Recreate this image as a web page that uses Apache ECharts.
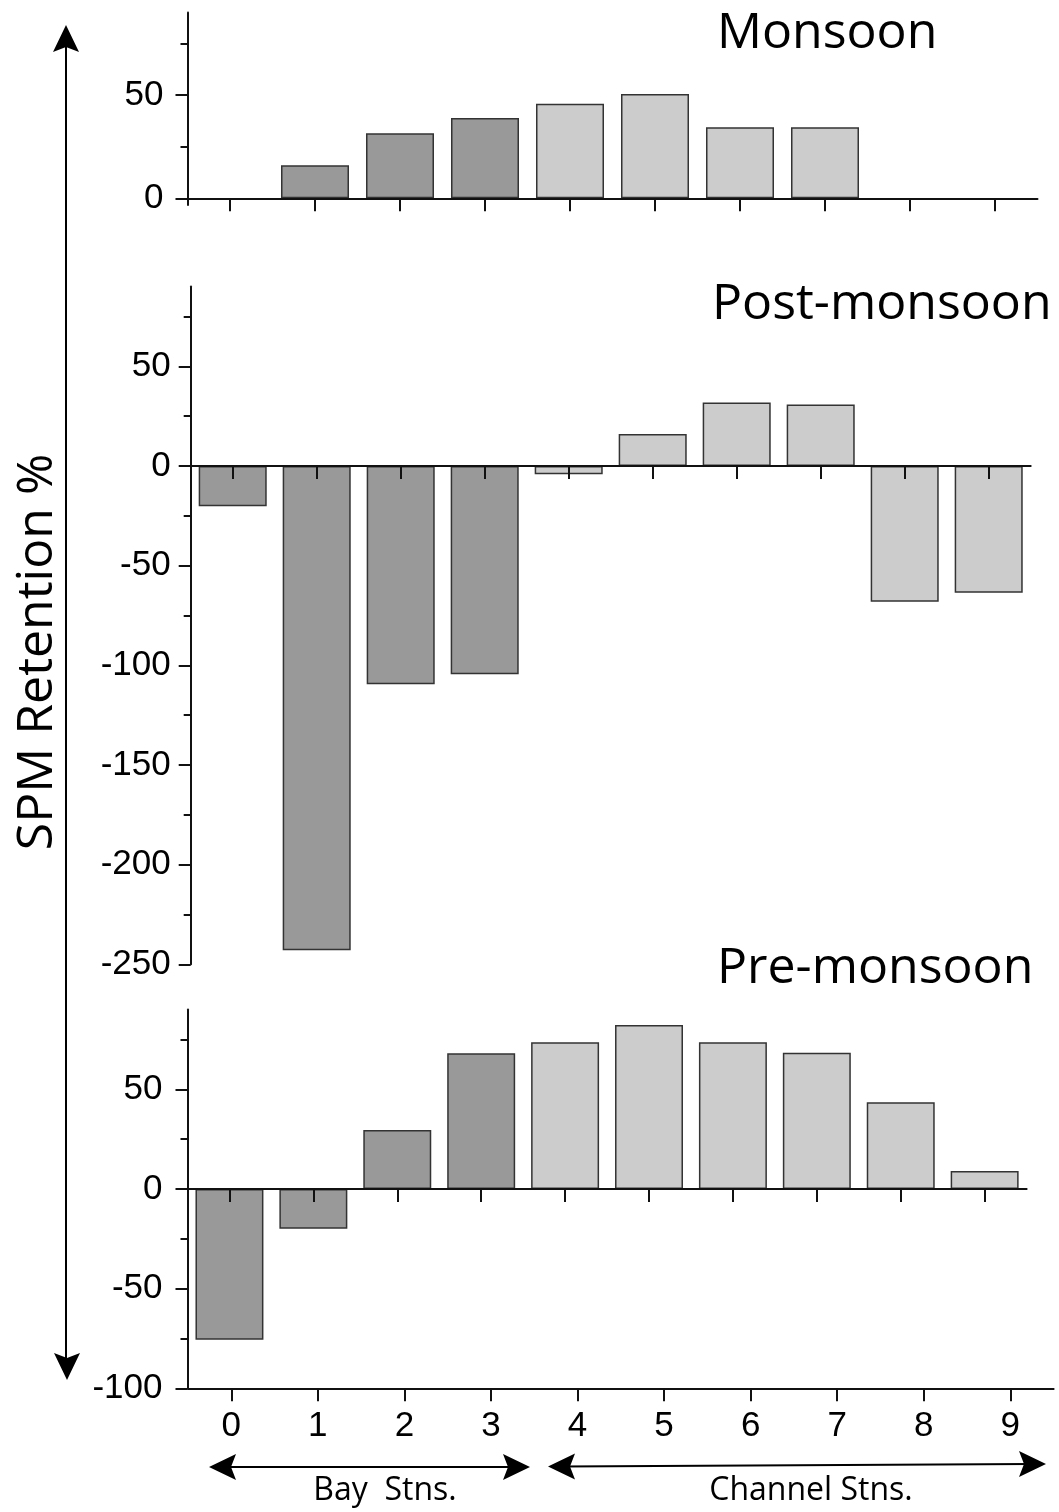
<!DOCTYPE html>
<html>
<head>
<meta charset="utf-8">
<script src="https://cdn.jsdelivr.net/npm/echarts@6/dist/echarts.min.js"></script>
<style>
  html, body { margin: 0; padding: 0; background: #fff; }
  #chart { width: 1059px; height: 1512px; }
</style>
</head>
<body>
<div id="chart"></div>
<script>
// ---------------- data ----------------
const stations = ['0', '1', '2', '3', '4', '5', '6', '7', '8', '9'];
const stationGroup = ['bay', 'bay', 'bay', 'bay', 'channel', 'channel', 'channel', 'channel', 'channel', 'channel'];
const monsoon = [null, 16.0, 31.5, 38.9, 45.8, 50.5, 34.4, 34.4, null, null];
const postMonsoon = [-20.2, -243, -109.5, -104.5, -4.2, 16.1, 31.8, 30.8, -68.1, -63.6];
const preMonsoon = [-75.6, -19.9, 29.6, 68.1, 73.6, 82.3, 73.6, 68.3, 43.5, 9.0];
const panelTitles = ['Monsoon', 'Post-monsoon', 'Pre-monsoon'];
const monsoonMajorTicks = [0, 50];
const monsoonMinorTicks = [25, 75];
const postMajorTicks = [-250, -200, -150, -100, -50, 0, 50];
const postMinorTicks = [-225, -175, -125, -75, -25, 25, 75];
const preMajorTicks = [-100, -50, 0, 50];
const preMinorTicks = [-75, -25, 25, 75];
const yTitle = 'SPM Retention %';
const groupLabels = ['Bay  Stns.', 'Channel Stns.'];

// ---------------- styling ----------------
const groupColor = { bay: '#999999', channel: '#cccccc' };
const AX = '#111111';
const labelFont = { fontFamily: '"Liberation Sans", Arial, sans-serif', fontSize: 35, color: '#000' };
const titleFont = '"Open Sans", "Noto Sans", sans-serif';

function barData(values) {
  return values.map((v, i) => ({
    value: v,
    itemStyle: { color: groupColor[stationGroup[i]] }
  }));
}

const grids = [
  { left: 187.5, right: 21.5, top: 12.4, bottom: 1307.1 },
  { left: 190.7, right: 28.3, top: 286.6, bottom: 547.7 },
  { left: 187.5, right: 32.4, top: 1009.6, bottom: 123.7 },
  { left: 188, right: 5.4, top: 1009.6, bottom: 123.7 }
];

function xAxisFor(gridIndex, showLabels, onZero) {
  return {
    type: 'category', gridIndex, data: stations,
    boundaryGap: true,
    z: 5,
    axisLine: { show: true, onZero: onZero, lineStyle: { color: AX, width: 2 } },
    axisTick: { show: true, alignWithLabel: true, length: 13, inside: false, lineStyle: { color: AX, width: 2 } },
    axisLabel: Object.assign({ show: showLabels, margin: 21 }, labelFont),
    splitLine: { show: false }
  };
}

function yAxesFor(gridIndex, min, max, majors, minors, margin, showLine) {
  return [
    {
      type: 'value', gridIndex, min, max, position: 'left',
      axisLine: { show: showLine, onZero: false, lineStyle: { color: AX, width: 2 } },
      axisTick: { show: showLine, customValues: majors, length: 12, lineStyle: { color: AX, width: 2 } },
      axisLabel: Object.assign({ show: showLine, customValues: majors, margin: margin }, labelFont),
      splitLine: { show: false }
    },
    {
      type: 'value', gridIndex, min, max, position: 'left',
      axisLine: { show: false, onZero: false },
      axisTick: { show: showLine, customValues: minors, length: 7, lineStyle: { color: AX, width: 2 } },
      axisLabel: { show: false },
      splitLine: { show: false }
    }
  ];
}

const yAxes = [].concat(
  yAxesFor(0, -3.2, 90, monsoonMajorTicks, monsoonMinorTicks, 24, true),
  yAxesFor(1, -250, 90, postMajorTicks, postMinorTicks, 20, true),
  yAxesFor(2, -100, 90, preMajorTicks, preMinorTicks, 25, true),
  yAxesFor(3, -100, 90, [], [], 20, false)
);

function barSeries(values, axisIdx, yIdx, gap) {
  return {
    type: 'bar', xAxisIndex: axisIdx, yAxisIndex: yIdx,
    data: barData(values),
    barCategoryGap: gap,
    itemStyle: { borderColor: '#333', borderWidth: 1.5 },
    silent: true
  };
}

// arrowhead polygon helper (decoration only)
function arrowHead(tipX, tipY, dirX, dirY) {
  const L = 27, W = 13, N = 22;
  const px = -dirY, py = dirX;
  return {
    type: 'polygon',
    shape: { points: [
      [tipX, tipY],
      [tipX - dirX * L + px * W, tipY - dirY * L + py * W],
      [tipX - dirX * N, tipY - dirY * N],
      [tipX - dirX * L - px * W, tipY - dirY * L - py * W]
    ] },
    style: { fill: '#000' }, silent: true
  };
}

function titleText(text, x, baselineY) {
  return { type: 'text', style: { text: text, x: x, y: baselineY - 39, font: '50px ' + titleFont, fill: '#000' }, silent: true };
}

const option = {
  backgroundColor: '#fff',
  animation: false,
  grid: grids,
  xAxis: [
    xAxisFor(0, false, true),
    xAxisFor(1, false, true),
    xAxisFor(2, false, true),
    xAxisFor(3, true, false)
  ],
  yAxis: yAxes,
  series: [
    barSeries(monsoon, 0, 0, '20%'),
    barSeries(postMonsoon, 1, 2, '19%'),
    barSeries(preMonsoon, 2, 4, '19%')
  ],
  graphic: [
    titleText(panelTitles[0], 717, 48),
    titleText(panelTitles[1], 712, 319),
    titleText(panelTitles[2], 717, 983),
    { type: 'text', x: 38, y: 652, rotation: Math.PI / 2,
      style: { text: yTitle, font: '50px ' + titleFont, fill: '#000', align: 'center', verticalAlign: 'middle' }, silent: true },
    { type: 'line', shape: { x1: 66, y1: 40, x2: 66, y2: 1366 }, style: { stroke: '#000', lineWidth: 2 }, silent: true },
    arrowHead(66, 25, 0, -1),
    arrowHead(67, 1380, 0, 1),
    { type: 'line', shape: { x1: 225, y1: 1467, x2: 515, y2: 1467 }, style: { stroke: '#000', lineWidth: 2 }, silent: true },
    arrowHead(209, 1467, -1, 0),
    arrowHead(530, 1467, 1, 0),
    { type: 'line', shape: { x1: 563, y1: 1466.5, x2: 1030, y2: 1464 }, style: { stroke: '#000', lineWidth: 2 }, silent: true },
    arrowHead(548, 1466.5, -1, 0),
    arrowHead(1046, 1464, 1, 0),
    { type: 'text', style: { text: groupLabels[0], x: 385, y: 1475, font: '32px ' + titleFont, fill: '#000', align: 'center' }, silent: true },
    { type: 'text', style: { text: groupLabels[1], x: 811, y: 1475, font: '32px ' + titleFont, fill: '#000', align: 'center' }, silent: true }
  ]
};

const chart = echarts.init(document.getElementById('chart'), null, { renderer: 'canvas' });
chart.setOption(option);
</script>
</body>
</html>
